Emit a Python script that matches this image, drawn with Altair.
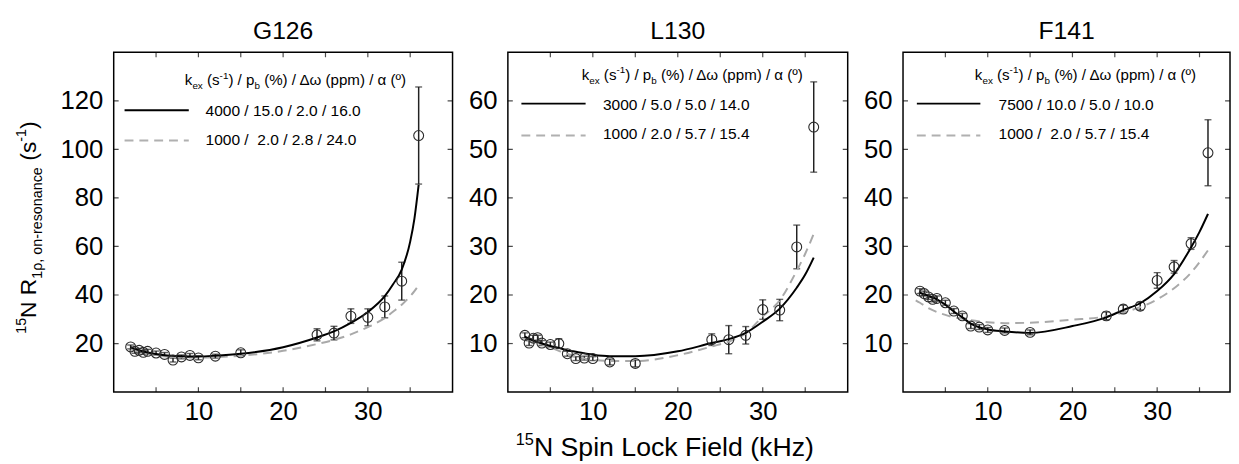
import altair as alt
import pandas as pd

FONT = "Liberation Sans"

# ---------------- data ----------------
field = [2, 2.5, 3, 3.5, 4, 5, 6, 7, 8, 9, 10, 12, 15, 24, 26, 28, 30, 32, 34, 36]

g126_r = [18.6, 16.8, 17.2, 16.4, 16.8, 16.1, 15.5, 13.2, 14.5, 15.1, 14.1, 14.8, 16.2,
          23.6, 24.3, 31.3, 30.8, 35.1, 45.7, 105.7]
g126_e = [0.8, 0.8, 0.8, 0.8, 0.8, 0.8, 0.8, 0.8, 0.8, 0.8, 0.8, 0.8, 1.2,
          2.5, 2.8, 3.0, 3.5, 4.5, 7.8, 20.0]

l130_r = [11.7, 10.1, 11.1, 11.2, 10.1, 9.8, 10.0, 7.9, 6.9, 7.0, 6.9, 6.2, 5.9,
          10.8, 10.8, 11.7, 17.0, 16.9, 29.9, 54.6]
l130_e = [0.5, 0.5, 0.6, 0.5, 0.5, 0.5, 1.0, 0.5, 0.4, 0.4, 0.4, 0.6, 0.7,
          1.2, 2.9, 1.8, 2.0, 2.2, 4.5, 9.3]

f141_r = [20.8, 20.3, 19.6, 19.1, 19.3, 18.4, 16.7, 15.7, 13.6, 13.4, 12.8, 12.7, 12.3,
          15.7, 17.1, 17.7, 23.0, 25.8, 30.6, 49.3]
f141_e = [0.5, 0.5, 0.5, 0.5, 0.5, 0.5, 0.5, 0.5, 0.5, 0.5, 0.5, 0.5, 0.5,
          0.8, 0.8, 0.8, 1.6, 1.3, 1.2, 6.8]

# model curves (solid = first legend row, dashed = second legend row)
g126_fit_x = [2, 3, 4, 5, 6, 8, 10, 12, 15, 20, 24, 26, 28, 30, 32, 33, 34, 35, 35.5, 36]
g126_fit_solid = [18.5, 17.2, 16.3, 15.7, 15.2, 14.8, 14.7, 15.0, 15.8, 18.5, 22.5, 25.0,
                  28.5, 33.0, 39.5, 44.5, 50.5, 62.0, 71.5, 85.5]
g126_fit_dash = [17.5, 16.6, 15.8, 15.2, 14.8, 14.3, 14.2, 14.4, 15.0, 17.0, 19.8, 21.5,
                 23.8, 26.8, 30.5, 33.2, 36.0, 39.5, 41.6, 44.0]

l130_fit_x = [2, 3, 4, 5, 6, 7, 8, 10, 12, 15, 20, 24, 26, 28, 30, 32, 34, 35, 36]
l130_fit_solid = [11.4, 10.6, 10.0, 9.5, 9.1, 8.6, 8.3, 7.7, 7.4, 7.4, 8.4, 10.1, 10.9,
                  12.2, 14.5, 17.2, 21.5, 24.2, 27.7]
l130_fit_dash = [11.0, 10.3, 9.8, 9.2, 8.5, 7.9, 7.3, 6.7, 6.4, 6.4, 7.6, 9.4, 10.4,
                 12.1, 15.6, 18.9, 25.0, 28.5, 32.6]

f141_fit_x = [1.9, 2, 3, 4, 5, 6, 7, 8, 10, 12, 15, 20, 24, 26, 28, 30, 32, 34, 35, 36]
f141_fit_solid = [20.6, 20.5, 19.8, 19.1, 18.0, 16.6, 15.4, 14.1, 12.9, 12.5, 12.2, 13.6,
                  15.4, 16.9, 18.3, 20.8, 24.3, 29.8, 33.0, 36.7]
f141_dash_x = [1.5, 2, 3, 4, 5, 6, 7, 8, 10, 12, 15, 20, 24, 26, 28, 30, 32, 34, 36]
f141_fit_dash = [18.9, 18.4, 17.3, 16.5, 15.9, 15.4, 15.1, 14.8, 14.4, 14.2, 14.3, 14.9,
                 15.6, 16.4, 17.5, 19.1, 21.4, 24.6, 29.2]

residues = ["G126", "L130", "F141"]
legend_solid = ["4000 / 15.0 / 2.0 / 16.0", "3000 / 5.0 / 5.0 / 14.0", "7500 / 10.0 / 5.0 / 10.0"]
legend_dash = ["1000 /\u00a0 2.0 / 2.8 / 24.0", "1000 / 2.0 / 5.7 / 15.4", "1000 /\u00a0 2.0 / 5.7 / 15.4"]

x_labels = [10, 20, 30]
x_minor = [5, 10, 15, 20, 25, 30, 35]
y_labels_g = [20, 40, 60, 80, 100, 120]
y_labels_lf = [10, 20, 30, 40, 50, 60]

# ---------------- text layout helpers ----------------
AW = {' ': 0.278, '(': 0.333, ')': 0.333, '/': 0.278, '%': 0.889, '.': 0.278, '-': 0.333,
      ',': 0.278, 'k': 0.5, 'e': 0.556, 'x': 0.5, 's': 0.5, 'p': 0.556, 'b': 0.556, 'm': 0.833,
      'Δ': 0.668, 'ω': 0.781, 'α': 0.578, 'º': 0.365, 'N': 0.722, 'R': 0.722, 'ρ': 0.576,
      'o': 0.556, 'n': 0.556, 'r': 0.333, 'a': 0.556, 'c': 0.5, 'S': 0.667, 'i': 0.222,
      'L': 0.556, 'F': 0.611, 'l': 0.222, 'd': 0.556, 'H': 0.722, 'z': 0.5}


def tw(s, size):
    return sum(AW.get(ch, 0.556) for ch in s) * size


def rich(pieces, x0, y0, big, small, angle=0):
    """pieces: list of (text, kind) with kind in n/sub/sup -> list of (text, x, y, size)."""
    out = []
    adv = 0.0
    for text, kind in pieces:
        size = big if kind == "n" else small
        lead = len(text) - len(text.lstrip(" "))
        adv += tw(" " * lead, size)
        body = text.lstrip(" ")
        off = 0.0
        if kind == "sub":
            off = 0.3 * big
        elif kind == "sup":
            off = -0.42 * big
        if angle == 0:
            out.append((body, x0 + adv, y0 + off, size))
        else:
            out.append((body, x0 + off, y0 - adv, size))
        adv += tw(body, size)
    return out


def text_layers(items, angle=0, color="black"):
    layers = []
    for body, x, y, size in items:
        df = pd.DataFrame({"t": [body]})
        kw = dict(font=FONT, fontSize=size, color=color, align="left", baseline="alphabetic")
        if angle:
            kw["angle"] = angle
        layers.append(alt.Chart(df).mark_text(**kw).encode(
            text="t:N", x=alt.value(x), y=alt.value(y)))
    return layers


header = [("k", "n"), ("ex", "sub"), (" (s", "n"), ("-1", "sup"), (") / p", "n"),
          ("b", "sub"), (" (%) / Δω (ppm) / α (º)", "n")]


def panel(i, r, err, fx_s, fs, fx_d, fd, ymax, ylabels, xmax, width, lg, extra=()):
    xs = alt.Scale(domain=[0, xmax], nice=False, zero=False)
    ys = alt.Scale(domain=[0, ymax], nice=False, zero=False)
    xaxis = alt.Axis(values=x_labels, ticks=False, domain=False, grid=False, labelFont=FONT,
                     labelFontSize=26, labelColor="black", labelPadding=7, title=None)
    yaxis = alt.Axis(values=ylabels, ticks=False, domain=False, grid=False, labelFont=FONT,
                     labelFontSize=26, labelColor="black", labelPadding=11, title=None)
    pts = pd.DataFrame({"k": field, "r": r,
                        "lo": [a - b for a, b in zip(r, err)],
                        "hi": [a + b for a, b in zip(r, err)]})
    solid = pd.DataFrame({"k": fx_s, "v": fs})
    dash = pd.DataFrame({"k": fx_d, "v": fd})
    xt = pd.DataFrame({"t": x_minor})
    yt = pd.DataFrame({"t": ylabels})

    X = lambda f: alt.X(f, type="quantitative", scale=xs, axis=xaxis)
    Y = lambda f: alt.Y(f, type="quantitative", scale=ys, axis=yaxis)

    layers = []
    layers.append(alt.Chart(pts).mark_rule(color="#222222", strokeWidth=1.5).encode(
        x=X("k"), y=Y("lo"), y2="hi"))
    for f in ["lo", "hi"]:
        layers.append(alt.Chart(pts).mark_tick(orient="horizontal", size=7, thickness=1.4,
                                               color="#222222").encode(x=X("k"), y=Y(f)))
    layers.append(alt.Chart(dash).mark_line(color="#a9a9a9", strokeWidth=2, strokeDash=[9, 6],
                                            interpolate="monotone").encode(x=X("k"), y=Y("v")))
    layers.append(alt.Chart(solid).mark_line(color="black", strokeWidth=2,
                                             interpolate="monotone").encode(x=X("k"), y=Y("v")))
    layers.append(alt.Chart(pts).mark_point(shape="circle", size=100, filled=False,
                                            color="#2a2a2a", strokeWidth=1.1, opacity=1).encode(
        x=X("k"), y=Y("r")))
    # inward frame ticks
    for yd in [0, ymax]:
        layers.append(alt.Chart(xt).mark_tick(orient="vertical", size=10, thickness=1.2,
                                              color="black", clip=True).encode(
            x=X("t"), y=alt.YDatum(yd, type="quantitative", scale=ys, axis=yaxis)))
    for xd in [0, xmax]:
        layers.append(alt.Chart(yt).mark_tick(orient="horizontal", size=10, thickness=1.2,
                                              color="black", clip=True).encode(
            y=Y("t"), x=alt.XDatum(xd, type="quantitative", scale=xs, axis=xaxis)))

    # legend
    hx, hy, lx1, lx2, ly1, ly2, tx, tb1, tb2 = lg
    layers += text_layers(rich(header, hx, hy, 15.3, 10))
    layers.append(alt.Chart(pd.DataFrame({"a": [0]})).mark_rule(color="black", strokeWidth=2).encode(
        x=alt.value(lx1), x2=alt.value(lx2), y=alt.value(ly1)))
    layers.append(alt.Chart(pd.DataFrame({"a": [0]})).mark_rule(
        color="#b0b0b0", strokeWidth=2, strokeDash=[9, 6]).encode(
        x=alt.value(lx1), x2=alt.value(lx2), y=alt.value(ly2)))
    layers += text_layers([(legend_solid[i], tx, tb1, 15.7), (legend_dash[i], tx, tb2, 15.7)])
    # panel title
    layers.append(alt.Chart(pd.DataFrame({"t": [residues[i]]})).mark_text(
        font=FONT, fontSize=25, color="black", align="center", baseline="alphabetic").encode(
        text="t:N", x=alt.value(width / 2), y=alt.value(-13)))
    layers += list(extra)
    return alt.layer(*layers).properties(width=width, height=344)


# y axis title (rotated, composed with sub/superscripts) for the first panel
ytitle = text_layers(
    rich([("15", "sup"), ("N R", "n"), ("1ρ, on-resonance", "sub"), (" (s", "n"), ("-1", "sup"), (")", "n")],
         -79, 285, 23, 14.5, angle=270), angle=270)
# x axis title under the middle panel
xtitle = text_layers(rich([("15", "sup"), ("N Spin Lock Field (kHz)", "n")], 8, 409, 27, 16.5))

p1 = panel(0, g126_r, g126_e, g126_fit_x, g126_fit_solid, g126_fit_x, g126_fit_dash,
           140, y_labels_g, 40, 343, (72, 33, 11, 76, 58.7, 89.3, 93, 64.3, 94.3), ytitle)
p2 = panel(1, l130_r, l130_e, l130_fit_x, l130_fit_solid, l130_fit_x, l130_fit_dash,
           70, y_labels_lf, 40, 344, (74.7, 27.7, 13.7, 78.7, 52, 84.3, 96.3, 58.3, 88.3), xtitle)
p3 = panel(2, f141_r, f141_e, f141_fit_x, f141_fit_solid, f141_dash_x, f141_fit_dash,
           70, y_labels_lf, 38.6, 331, (72.7, 27.7, 14, 78.3, 52, 84.3, 96.7, 58.3, 88.3))

chart = alt.hconcat(p1, p2, p3, spacing=14).properties(
    padding={"left": 5, "top": 8, "right": 0, "bottom": 0}
).configure(font=FONT).configure_view(stroke="black", strokeWidth=1.5)

chart.save("out.html", embed_options={"renderer": "svg", "actions": False})
